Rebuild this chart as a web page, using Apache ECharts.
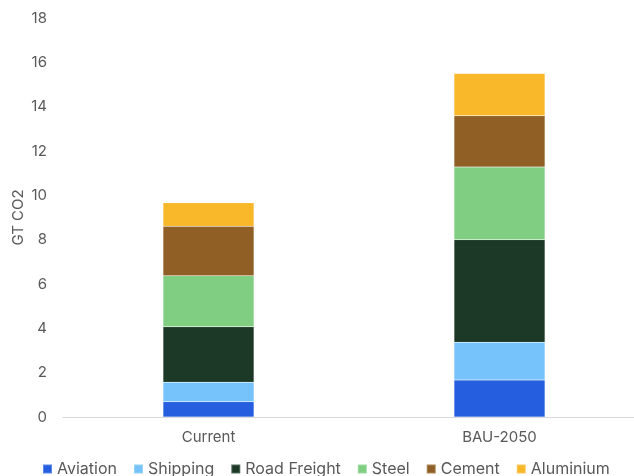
<!DOCTYPE html>
<html>
<head>
<meta charset="utf-8">
<script src="https://cdn.jsdelivr.net/npm/echarts@6/dist/echarts.min.js"></script>
<style>
html, body { margin: 0; padding: 0; background: #fff; }
#chart { width: 634px; height: 476px; }
</style>
</head>
<body>
<div id="chart"></div>
<script>
// Emissions by sector, GT CO2
const categories = ['Current', 'BAU-2050'];
const aviation = [0.69, 1.67];
const shipping = [0.88, 1.70];
const roadFreight = [2.50, 4.63];
const steel = [2.30, 3.28];
const cement = [2.23, 2.31];
const aluminium = [1.07, 1.91];

const seriesDefs = [
  { name: 'Aviation', data: aviation, color: '#255FE0' },
  { name: 'Shipping', data: shipping, color: '#75C3FA' },
  { name: 'Road Freight', data: roadFreight, color: '#1C3827' },
  { name: 'Steel', data: steel, color: '#80CE82' },
  { name: 'Cement', data: cement, color: '#8F5F25' },
  { name: 'Aluminium', data: aluminium, color: '#F9B72A' }
];

const font = 'Inter, "Liberation Sans", sans-serif';
const textColor = '#595959';
const chart = echarts.init(document.getElementById('chart'), null, { renderer: 'canvas' });

chart.setOption({
  animation: false,
  textStyle: { fontFamily: font },
  grid: { left: 63, top: 18, width: 582, height: 399, containLabel: false, outerBoundsMode: 'none' },
  legend: {
    bottom: -6,
    left: 37,
    itemWidth: 9,
    itemHeight: 9,
    itemGap: 16,
    icon: 'rect',
    textStyle: { fontSize: 16, color: textColor, fontFamily: font, padding: [0, 0, 0, 0] },
    data: seriesDefs.map(s => s.name)
  },
  xAxis: {
    type: 'category',
    data: categories,
    axisLine: { show: true, lineStyle: { color: '#d9d9d9', width: 1 } },
    axisTick: { show: false },
    axisLabel: { fontSize: 15, color: textColor, margin: 13, fontFamily: font }
  },
  yAxis: {
    type: 'value',
    min: 0,
    max: 18,
    interval: 2,
    name: 'GT CO2',
    nameLocation: 'middle',
    nameGap: 45,
    nameMoveOverlap: false,
    nameTextStyle: { fontSize: 15, color: textColor, fontFamily: font, verticalAlign: 'middle' },
    axisLine: { show: false },
    axisTick: { show: false },
    splitLine: { show: false },
    axisLabel: { fontSize: 15, color: textColor, margin: 16, fontFamily: font }
  },
  series: seriesDefs.map(s => ({
    name: s.name,
    type: 'bar',
    stack: 'total',
    barWidth: 91,
    data: s.data,
    itemStyle: { color: s.color, borderColor: 'rgba(255,255,255,0.25)', borderWidth: 0.5 }
  }))
});
</script>
</body>
</html>
